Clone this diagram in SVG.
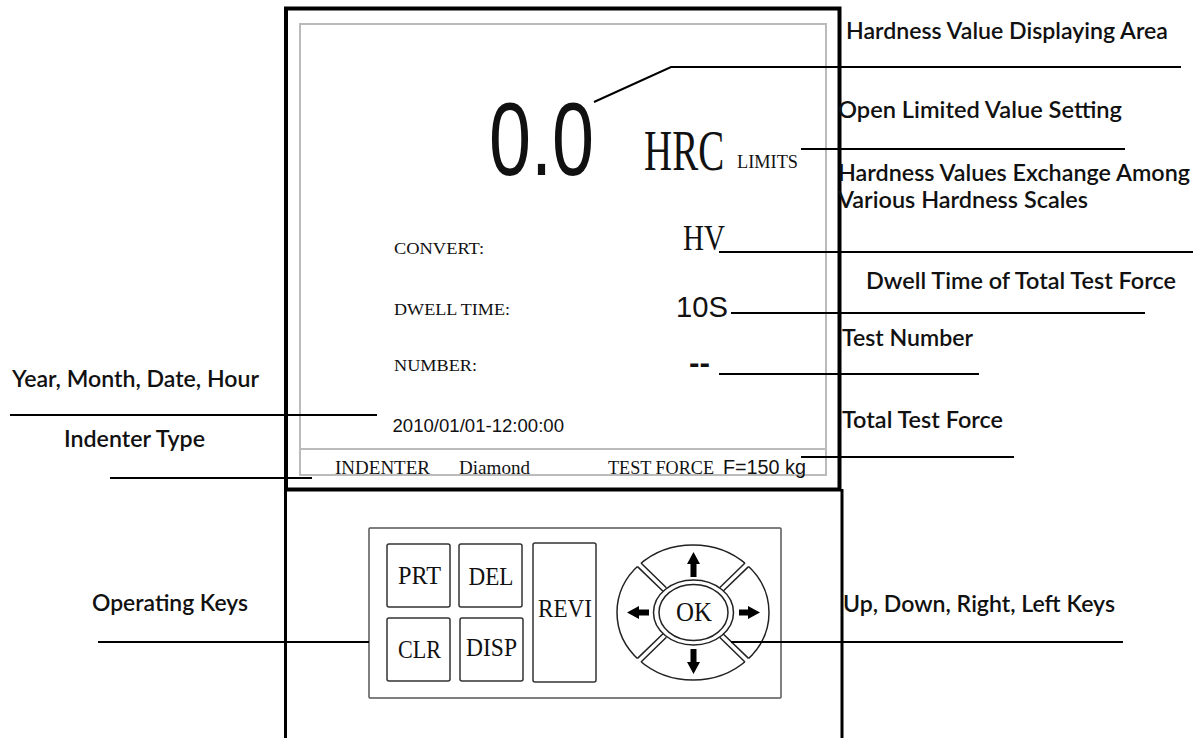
<svg xmlns="http://www.w3.org/2000/svg" width="1204" height="738" viewBox="0 0 1204 738">
<style>
.lbl{font-family:Lato,"Liberation Sans",sans-serif;font-size:23px;font-weight:600;fill:#111}
.serif{font-family:"Liberation Serif",serif;fill:#111}
.sans{font-family:"Liberation Sans",sans-serif;fill:#111}
.lead{stroke:#000;stroke-width:2;fill:none}
.frame{stroke:#000;stroke-width:4;fill:none}
.key{fill:#fff;stroke:#333;stroke-width:1.5}
.ring{fill:#fff;stroke:#222;stroke-width:1.5}
.sep{stroke:#222;stroke-width:1.5;fill:none}
.arrow{fill:#000}
</style>
<rect width="1204" height="738" fill="#fff"/>

<g id="screen">
  <rect class="frame" x="286" y="8.5" width="553.5" height="481"/>
  <rect x="300" y="24" width="526" height="451" fill="none" stroke="#bbb" stroke-width="2"/>
  <line x1="300" y1="449" x2="826" y2="449" stroke="#bbb" stroke-width="2"/>
  <text class="sans" transform="translate(489,175) scale(0.726,1)" x="0" y="0" font-size="104">0.0</text>
  <text class="serif" transform="translate(644,170) scale(0.696,1)" x="0" y="0" font-size="56">HRC</text>
  <text class="serif" x="737" y="168" font-size="19" textLength="61" lengthAdjust="spacingAndGlyphs">LIMITS</text>
  <text class="serif" x="394" y="254" font-size="17.5" textLength="90" lengthAdjust="spacingAndGlyphs">CONVERT:</text>
  <text class="serif" transform="translate(683,250) scale(0.83,1)" x="0" y="0" font-size="35">HV</text>
  <text class="serif" x="394" y="315" font-size="17.5" textLength="116" lengthAdjust="spacingAndGlyphs">DWELL TIME:</text>
  <text class="sans" x="676" y="317" font-size="30" textLength="52" lengthAdjust="spacingAndGlyphs">10S</text>
  <text class="serif" x="394" y="371" font-size="17.5" textLength="83" lengthAdjust="spacingAndGlyphs">NUMBER:</text>
  <text class="sans" x="689" y="373" font-size="30" font-weight="bold" textLength="21" lengthAdjust="spacingAndGlyphs">--</text>
  <text class="sans" x="392.5" y="432" font-size="18.5" textLength="171.5" lengthAdjust="spacingAndGlyphs">2010/01/01-12:00:00</text>
  <text class="serif" x="335" y="474" font-size="19" textLength="95" lengthAdjust="spacingAndGlyphs">INDENTER</text>
  <text class="serif" x="459" y="474" font-size="19" textLength="71" lengthAdjust="spacingAndGlyphs">Diamond</text>
  <text class="serif" x="608" y="474" font-size="19" textLength="106" lengthAdjust="spacingAndGlyphs">TEST FORCE</text>
  <text class="sans" x="723" y="474" font-size="19.5" textLength="83" lengthAdjust="spacingAndGlyphs">F=150 kg</text>
</g>

<g id="body">
  <line x1="285.5" y1="489" x2="285.5" y2="738" stroke="#000" stroke-width="3"/>
  <line x1="842" y1="489" x2="842" y2="738" stroke="#000" stroke-width="3"/>
</g>

<g id="keypad">
  <rect x="369" y="528" width="412" height="170" fill="#fff" stroke="#555" stroke-width="1.5" rx="1"/>
  <g id="key-prt"><rect class="key" x="387" y="544" width="63" height="63" rx="2"/><text class="serif" x="398" y="584" font-size="25" textLength="43" lengthAdjust="spacingAndGlyphs">PRT</text></g>
  <g id="key-del"><rect class="key" x="459" y="544" width="63" height="63" rx="2"/><text class="serif" x="468.5" y="585" font-size="25" textLength="45" lengthAdjust="spacingAndGlyphs">DEL</text></g>
  <g id="key-clr"><rect class="key" x="387" y="618" width="63" height="63" rx="2"/><text class="serif" x="398" y="658" font-size="25" textLength="43" lengthAdjust="spacingAndGlyphs">CLR</text></g>
  <g id="key-disp"><rect class="key" x="460" y="618" width="63" height="63" rx="2"/><text class="serif" x="466" y="656" font-size="25" textLength="51" lengthAdjust="spacingAndGlyphs">DISP</text></g>
  <g id="key-revi"><rect class="key" x="533" y="543" width="63" height="139" rx="2"/><text class="serif" x="538" y="617" font-size="25" textLength="54" lengthAdjust="spacingAndGlyphs">REVI</text></g>
  <g id="key-dpad">
    <ellipse class="ring" cx="693" cy="612.5" rx="76" ry="67.5"/>
    <polygon fill="#fff" points="723,591.3 750.6,564.5 747.1,560.9 719.6,587.7"/>
    <polygon fill="#fff" points="663,591.3 635.4,564.5 638.9,560.9 666.4,587.7"/>
    <polygon fill="#fff" points="723,633.7 750.6,660.5 747.1,664.1 719.6,637.3"/>
    <polygon fill="#fff" points="663,633.7 635.4,660.5 638.9,664.1 666.4,637.3"/>
    <path class="sep" d="M723,591.3L748.5,566.6M719.6,587.7L745,563M663,591.3L637.5,566.6M666.4,587.7L641,563M723,633.7L748.5,658.4M719.6,637.3L745,662M663,633.7L637.5,658.4M666.4,637.3L641,662"/>
    <ellipse class="ring" cx="693.5" cy="612.5" rx="40" ry="32.5"/>
    <ellipse class="ring" cx="693.5" cy="612.5" rx="34.5" ry="28"/>
    <path class="arrow" d="M693.5,552L700,564L696.5,564L696.5,577L690.5,577L690.5,564L687,564Z"/>
    <path class="arrow" d="M693.5,674L700,662L696.5,662L696.5,649L690.5,649L690.5,662L687,662Z"/>
    <path class="arrow" d="M627,612.5L639,606L639,609.5L649,609.5L649,615.5L639,615.5L639,619Z"/>
    <path class="arrow" d="M760,612.5L748,606L748,609.5L739,609.5L739,615.5L748,615.5L748,619Z"/>
    <text class="serif" x="676" y="621" font-size="28" textLength="36" lengthAdjust="spacingAndGlyphs">OK</text>
  </g>
</g>

<g id="connectors">
  <polyline class="lead" points="594,102 671,67 1181,67"/>
  <line class="lead" x1="801" y1="149" x2="1125" y2="149"/>
  <line class="lead" x1="719" y1="252" x2="1193" y2="252"/>
  <line class="lead" x1="731" y1="313" x2="1145" y2="313"/>
  <line class="lead" x1="719" y1="374" x2="979" y2="374"/>
  <line class="lead" x1="801" y1="457" x2="1014" y2="457"/>
  <line class="lead" x1="10" y1="415" x2="377" y2="415"/>
  <line class="lead" x1="110" y1="478" x2="312" y2="478"/>
  <line class="lead" x1="98" y1="642" x2="369" y2="642"/>
  <line class="lead" x1="731" y1="642" x2="1123" y2="642"/>
</g>

<g id="labels">
  <text id="lbl-hardness" class="lbl" x="846" y="39" textLength="322" lengthAdjust="spacingAndGlyphs">Hardness Value Displaying Area</text>
  <text id="lbl-limits" class="lbl" x="838" y="118" textLength="284" lengthAdjust="spacingAndGlyphs">Open Limited Value Setting</text>
  <text id="lbl-convert" class="lbl" x="838" y="181" textLength="352" lengthAdjust="spacingAndGlyphs">Hardness Values Exchange Among</text>
  <text class="lbl" x="838" y="208" textLength="250" lengthAdjust="spacingAndGlyphs">Various Hardness Scales</text>
  <text id="lbl-dwell" class="lbl" x="866" y="289" textLength="310" lengthAdjust="spacingAndGlyphs">Dwell Time of Total Test Force</text>
  <text id="lbl-number" class="lbl" x="842" y="346" textLength="131" lengthAdjust="spacingAndGlyphs">Test Number</text>
  <text id="lbl-force" class="lbl" x="842" y="428" textLength="161" lengthAdjust="spacingAndGlyphs">Total Test Force</text>
  <text id="lbl-date" class="lbl" x="12" y="387" textLength="247" lengthAdjust="spacingAndGlyphs">Year, Month, Date, Hour</text>
  <text id="lbl-indenter" class="lbl" x="64" y="447" textLength="141" lengthAdjust="spacingAndGlyphs">Indenter Type</text>
  <text id="lbl-keys" class="lbl" x="92" y="611" textLength="156" lengthAdjust="spacingAndGlyphs">Operating Keys</text>
  <text id="lbl-arrows" class="lbl" x="843" y="612" textLength="272" lengthAdjust="spacingAndGlyphs">Up, Down, Right, Left Keys</text>
</g>
</svg>
